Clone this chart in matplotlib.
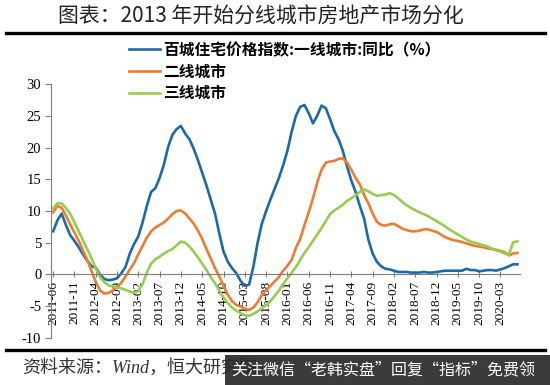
"""Tier-city housing price index YoY, 2011-06 .. 2020-07."""
import numpy as np
import matplotlib
matplotlib.use("Agg")
import matplotlib.pyplot as plt
from matplotlib.lines import Line2D
from matplotlib.patches import Rectangle

plt.rcParams['font.family'] = ['Noto Sans CJK SC', 'DejaVu Sans']

# monthly YoY (%), 2011-06 to 2020-07
tier1 = [6.8, 8.5, 9.6, 7.8, 6.2, 5.3, 4.3, 3.2, 2.2, 1.3,
         1.1, 0.0, -0.7, -0.9, -0.8, -0.6, 0.2, 1.2, 3.3, 4.8,
         6.0, 8.2, 10.8, 13.0, 13.6, 15.2, 17.3, 20.1, 22.0, 22.9,
         23.4, 22.2, 21.3, 19.8, 18.0, 16.0, 14.0, 11.8, 9.6, 6.5,
         3.6, 2.0, 1.0, 0.2, -1.0, -1.8, -1.6, 1.2, 5.0, 8.0,
         10.0, 11.8, 13.5, 15.2, 17.2, 19.5, 22.5, 25.0, 26.4, 26.7,
         25.4, 23.8, 25.0, 26.6, 26.2, 24.5, 22.6, 21.3, 19.5, 17.0,
         14.8, 13.0, 10.8, 8.8, 5.5, 3.3, 2.0, 1.3, 0.9, 0.8,
         0.6, 0.4, 0.4, 0.4, 0.3, 0.3, 0.3, 0.4, 0.3, 0.3,
         0.4, 0.5, 0.6, 0.6, 0.6, 0.6, 0.6, 0.9, 0.7, 0.7,
         0.5, 0.6, 0.7, 0.7, 0.6, 0.8, 1.0, 1.3, 1.6, 1.6]

tier2 = [9.8, 10.8, 10.5, 9.3, 7.9, 6.6, 5.3, 3.8, 2.3, 0.6,
         -1.2, -2.5, -3.0, -2.9, -2.5, -2.0, -1.3, -0.3, 0.8, 1.8,
         3.2, 4.5, 5.8, 6.8, 7.4, 7.8, 8.2, 8.8, 9.5, 10.0,
         10.1, 9.6, 8.8, 8.0, 6.9, 5.6, 4.0, 2.5, 1.0, -0.3,
         -1.8, -3.2, -4.2, -4.8, -5.0, -5.4, -5.6, -5.2, -4.4, -3.2,
         -2.5, -1.8, -1.1, -0.4, 0.6, 1.4, 2.3, 4.2, 5.6, 7.8,
         9.8, 12.0, 14.5, 16.5, 17.6, 17.8, 17.9, 18.2, 18.3, 17.6,
         16.5, 15.2, 14.2, 12.5, 11.2, 9.6, 8.3, 7.8, 7.7, 7.9,
         8.0, 7.6, 7.2, 7.0, 6.8, 6.8, 6.9, 7.1, 7.1, 6.9,
         6.7, 6.3, 5.9, 5.6, 5.4, 5.3, 5.1, 4.9, 4.7, 4.5,
         4.4, 4.3, 4.1, 4.0, 3.9, 3.7, 3.5, 3.0, 3.3, 3.4]

tier3 = [10.4, 11.2, 11.2, 10.5, 9.6, 8.2, 6.8, 5.4, 4.0, 2.6,
         1.0, -0.4, -1.2, -1.7, -1.9, -2.0, -2.2, -2.4, -2.7, -2.9,
         -2.6, -1.5, 0.3, 1.7, 2.4, 2.8, 3.3, 3.7, 4.0, 4.6,
         5.2, 5.0, 4.4, 3.6, 2.7, 1.7, 0.7, -0.4, -1.4, -2.5,
         -3.6, -4.5, -5.2, -5.7, -6.1, -6.4, -6.5, -6.2, -5.8, -5.3,
         -4.8, -4.2, -3.4, -2.5, -1.5, -0.6, 0.3, 1.2, 2.3, 3.4,
         4.3, 5.3, 6.3, 7.3, 8.4, 9.5, 10.1, 10.5, 11.0, 11.6,
         12.0, 12.5, 13.0, 13.4, 13.1, 12.7, 12.4, 12.5, 12.6, 12.8,
         12.5, 12.0, 11.4, 10.9, 10.5, 10.1, 9.8, 9.5, 9.2, 8.8,
         8.4, 8.0, 7.6, 7.1, 6.7, 6.3, 5.9, 5.5, 5.2, 5.0,
         4.8, 4.6, 4.4, 4.1, 3.8, 3.6, 3.3, 3.1, 5.1, 5.2]

tick_labels = ['2011-06', '2011-11', '2012-04', '2012-09', '2013-02', '2013-07',
               '2013-12', '2014-05', '2014-10', '2015-03', '2015-08', '2016-01',
               '2016-06', '2016-11', '2017-04', '2017-09', '2018-02', '2018-07',
               '2018-12', '2019-05', '2019-10', '2020-03']

names = ['百城住宅价格指数:一线城市:同比（%）', '二线城市', '三线城市']
colors = ['#1f6aa5', '#ed7d31', '#97cc4e']

fig = plt.figure(figsize=(5.5, 3.85), dpi=100)
ax = fig.add_axes([0.0927, 0.1221, 0.852, 0.6597])

x = np.arange(len(tier1))
for s, n, c in zip([tier1, tier2, tier3], names, colors):
    ax.plot(x, s, color=c, lw=1.9, label=n, solid_joinstyle='round')

# spine position first: it resets the tick objects
for side in ['top', 'right']:
    ax.spines[side].set_visible(False)
ax.spines['bottom'].set_position(('data', 0))
ax.spines['bottom'].set_color('#7f7f7f')
ax.spines['left'].set_color('#7f7f7f')

ax.set_xlim(-0.5, len(tier1) - 0.5)
ax.set_ylim(-10, 30)
ax.set_yticks(range(-10, 31, 5))
ax.set_yticklabels([str(v) for v in range(-10, 31, 5)],
                   family='Liberation Serif', fontsize=10.5)
ax.set_xticks(np.arange(len(tick_labels)) * 5)
ax.set_xticklabels(tick_labels, rotation=90, family='Liberation Serif', fontsize=9.5)
ax.tick_params(axis='x', direction='inout', length=5, color='#7f7f7f', pad=2)
ax.tick_params(axis='y', direction='out', length=4, color='#7f7f7f', pad=3)

ax.legend(loc='upper left', bbox_to_anchor=(121 / 550, 1 - 34 / 385),
          bbox_transform=fig.transFigure, frameon=False, borderpad=0,
          handlelength=2.0, handletextpad=0.2, labelspacing=0.36,
          prop={'family': 'Noto Sans CJK SC', 'weight': 'bold', 'size': 11.3})

# title, rules, source note
fig.text(0.475, 0.956, '图表：2013 年开始分线城市房地产市场分化',
         ha='center', va='center', fontsize=15, color='#222222')
fig.add_artist(Line2D([0.01, 0.99], [0.914, 0.914], transform=fig.transFigure,
                      color='black', lw=2.4))
fig.add_artist(Line2D([0.01, 0.99], [0.091, 0.091], transform=fig.transFigure,
                      color='black', lw=2.4))
fig.text(0.04, 0.044, '资料来源：Wind，恒大研究院', ha='left', va='center',
         fontsize=13, style='italic', color='#333333',
         family=['Liberation Serif', 'Noto Sans CJK SC'])

# watermark banner
fig.add_artist(Rectangle((0.409, 0), 0.6, 0.078, transform=fig.transFigure,
                         facecolor='#2a2a2a', edgecolor='none', alpha=0.92, zorder=5))
fig.text(0.42, 0.039, '关注微信“老韩实盘”回复“指标”免费领',
         ha='left', va='center', fontsize=11.5, color='white', zorder=6)

plt.savefig('out.png', dpi=100, facecolor='w')
